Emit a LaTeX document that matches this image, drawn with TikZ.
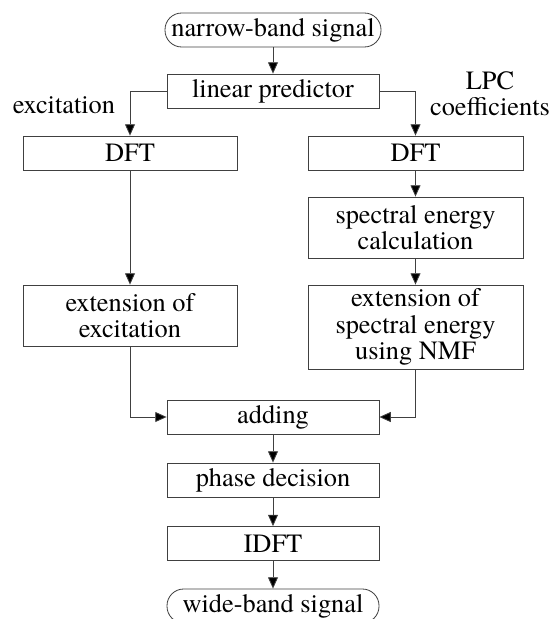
\documentclass[tikz,border=0pt]{standalone}
\usepackage{fontspec}
\setmainfont{TeX Gyre Termes}
\usetikzlibrary{arrows.meta}
\tikzset{
  block/.style={draw=black!75, line width=0.7pt, minimum width=6.42cm, minimum height=1.02cm, align=center, inner sep=0pt},
  tall/.style={block, minimum height=1.83cm},
  taller/.style={block, minimum height=2.52cm},
  term/.style={block, rounded corners=0.5cm, minimum width=6.48cm},
  arr/.style={draw=black!75, line width=0.7pt, -{Triangle[length=3.4mm,width=3mm,fill=black]}}
}
\begin{document}
\begin{tikzpicture}[x=0.03cm,y=-0.03cm,font=\fontsize{22.5}{22.5}\selectfont]
\useasboundingbox (0,0) rectangle (557,619);
\node[term] (nb) at (273,30) {narrow-band signal};
\node[block, minimum width=6.36cm] (lp) at (273,91) {linear predictor};
\node[block] (dftl) at (130,153) {DFT};
\node[block, minimum width=6.45cm] (dftr) at (415.5,153) {DFT};
\node[tall, minimum width=6.45cm] (sec) at (415.5,227.5) {spectral energy\\calculation};
\node[tall] (exte) at (130,315.5) {extension of\\excitation};
\node[taller, minimum width=6.45cm] (exts) at (415.5,327) {extension of\\spectral energy\\using NMF};
\node[block, minimum width=6.36cm] (add) at (273,417) {adding};
\node[block, minimum width=6.36cm] (phase) at (273,480) {phase decision};
\node[block, minimum width=6.36cm] (idft) at (273,543.5) {IDFT};
\node[term, minimum width=6.36cm] (wb) at (273,606) {wide-band signal};
% labels
\node (excl) at (64,105) {excitation};
\node[align=center] (lpcl) at (490,93.5) {LPC\\coefficients};
% connectors
\draw[arr] (nb) -- (lp);
\draw[arr] (lp.west) -| (dftl.north);
\draw[arr] (lp.east) -| (dftr.north);
\draw[arr] (dftl) -- (exte);
\draw[arr] (dftr) -- (sec);
\draw[arr] (sec) -- (exts);
\draw[arr] (exte.south) |- (add.west);
\draw[arr] (exts.south) |- (add.east);
\draw[arr] (add) -- (phase);
\draw[arr] (phase) -- (idft);
\draw[arr] (idft) -- (wb);
\end{tikzpicture}
\end{document}
